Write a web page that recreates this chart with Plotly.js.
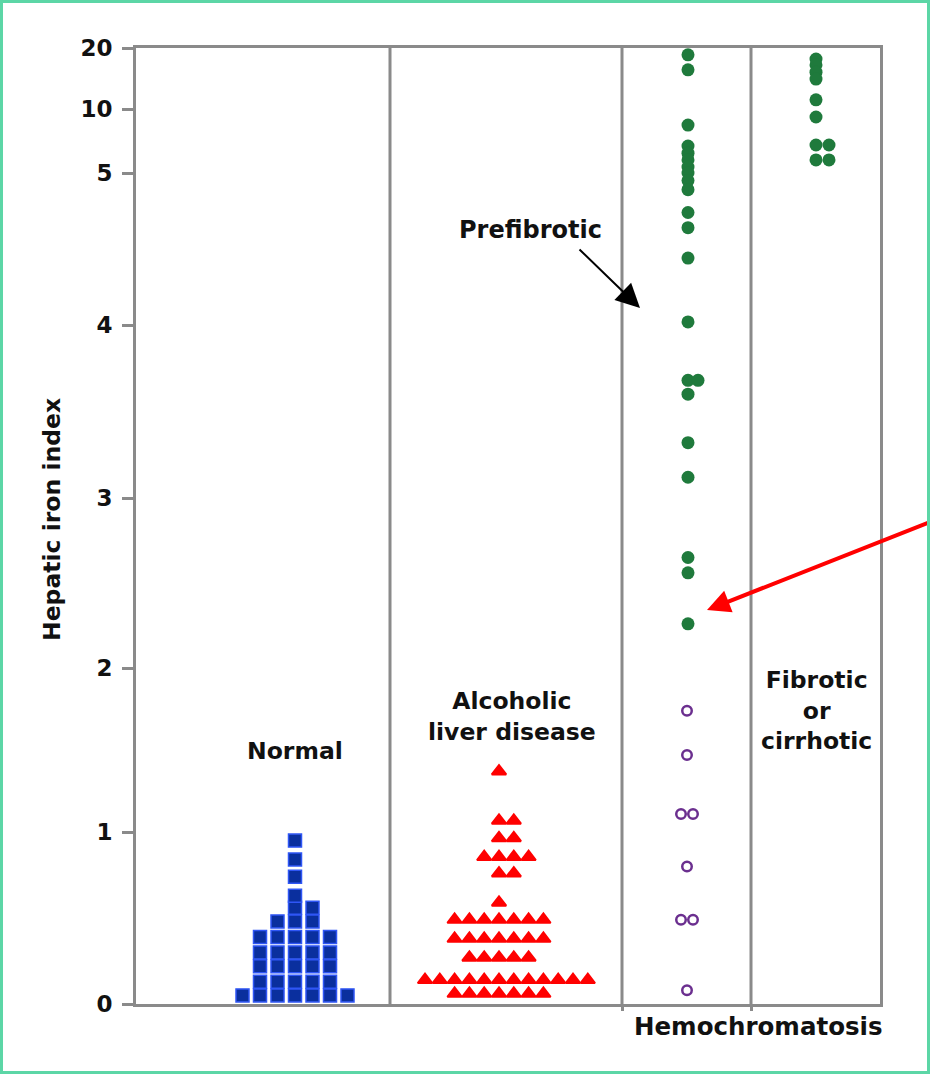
<!DOCTYPE html>
<html><head><meta charset="utf-8">
<script src="https://cdn.plot.ly/plotly-3.0.1.min.js"></script>
<style>
html,body{margin:0;padding:0;background:#fff;}
#chart{width:930px;height:1074px;}
#frame{position:fixed;left:0;top:0;width:930px;height:1074px;box-sizing:border-box;border:3px solid #5cd6a6;pointer-events:none;}
</style></head><body>
<div id="chart"></div><div id="frame"></div>
<script>
// ---- data (hepatic iron index values) ----
const categories = ['Normal', 'Alcoholic liver disease', 'Hemochromatosis (open)', 'Hemochromatosis prefibrotic', 'Hemochromatosis fibrotic or cirrhotic'];
const normalValues = [0.05,0.05,0.05,0.05,0.05,0.05,0.05,
  0.13,0.13,0.13,0.13,0.13, 0.22,0.22,0.22,0.22,0.22, 0.30,0.30,0.30,0.30,0.30,
  0.39,0.39,0.39,0.39,0.39, 0.48,0.48,0.48, 0.56,0.56, 0.63, 0.74, 0.84, 0.95];
const alcoholicValues = [0.06,0.06,0.06,0.06,0.06,0.06,0.06,
  0.14,0.14,0.14,0.14,0.14,0.14,0.14,0.14,0.14,0.14,0.14,0.14,
  0.27,0.27,0.27,0.27,0.27, 0.38,0.38,0.38,0.38,0.38,0.38,0.38,
  0.49,0.49,0.49,0.49,0.49,0.49,0.49, 0.59, 0.76,0.76, 0.855,0.855,0.855,0.855,
  0.965,0.965, 1.07,1.07, 1.37];
const hemoOpenValues = [1.74, 1.47, 1.11, 1.11, 0.80, 0.49, 0.49, 0.08];
const hemoPrefibroticValues = [18.5, 15.6, 8.4, 6.69, 6.2, 5.76, 5.33, 5.0, 4.95, 4.89, 4.74, 4.64, 4.44,
  4.02, 3.68, 3.68, 3.60, 3.32, 3.12, 2.65, 2.56, 2.26];
const hemoFibroticValues = [17.65, 16.5, 15.2, 14.05, 11.1, 9.17, 6.77, 6.77, 5.76, 5.76];
const tickLabels = ['0','1','2','3','4','5','10','20'];
const tickValues = [0,1,2,3,4,5,10,20];

// ---- broken axis layout: where each tick sits on the drawn axis (px from bottom) ----
const tickPos = [0,172,336,506,679,831,895,956];
function toAxis(v){
  for (let i=0;i<tickValues.length-1;i++){
    const a=tickValues[i], b=tickValues[i+1];
    if (v<=b || i===tickValues.length-2){
      let f;
      if (a>=5) f=Math.log(v/a)/Math.log(b/a); else f=(v-a)/(b-a);
      return tickPos[i]+f*(tickPos[i+1]-tickPos[i]);
    }
  }
}
// dot-plot spreading of tied values
function spread(values, center, step, align){
  const counts={}, seen={};
  values.forEach(v=>counts[v]=(counts[v]||0)+1);
  return values.map(v=>{
    const n=counts[v]; seen[v]=(seen[v]===undefined)?0:seen[v]+1;
    const k=seen[v];
    return center+(k-(n-1)/2+(n%2===0?align:0))*step;
  });
}
function trace(vals, center, step, align, marker, name){
  return {type:'scatter', mode:'markers', name:name, x:spread(vals,center,step,align),
    y:vals.map(toAxis), marker:marker, cliponaxis:false, hoverinfo:'skip'};
}
const data = [
  trace(normalValues,159,17.5,0.5,{symbol:'square',size:13,color:'#0a2f9e',line:{color:'#2f56f5',width:1.5}},categories[0]),
  trace(alcoholicValues,363,14.8,0.5,{symbol:'triangle-up',size:12.5,color:'#ff0000',line:{color:'#ff0000',width:2}},categories[1]),
  trace(hemoOpenValues,551,12,0,{symbol:'circle-open',size:9.5,color:'#6b2f8f',line:{color:'#6b2f8f',width:2.5}},categories[2]),
  trace(hemoPrefibroticValues,552,10,0.5,{symbol:'circle',size:13,color:'#1f7a3c'},categories[3]),
  trace(hemoFibroticValues,680,13,0.5,{symbol:'circle',size:13,color:'#1f7a3c'},categories[4])
];
const F='DejaVu Sans';
const W=744, H=956;
function px(x){return (x-136)/W;} function py(y){return (1004-y)/H;}
function label(text,x,y,size){return {text:text,xref:'paper',yref:'paper',x:px(x),y:py(y),showarrow:false,
  font:{family:F,size:size||23.5,color:'#111',weight:'bold'},xanchor:'center',yanchor:'middle',align:'center'};}
const gray='#8a8a8a';
const layout = {
  width:930, height:1074, margin:{l:136,r:50,t:48,b:70}, showlegend:false,
  paper_bgcolor:'#fff', plot_bgcolor:'#fff',
  xaxis:{range:[0,W], showgrid:false, zeroline:false, showline:true, mirror:true, linecolor:gray, linewidth:3,
    tickmode:'array', tickvals:[486,615], ticks:'outside', ticklen:4, tickwidth:3, tickcolor:gray, showticklabels:false, fixedrange:true},
  yaxis:{range:[0,H], showgrid:false, zeroline:false, showline:true, mirror:true, linecolor:gray, linewidth:3,
    tickmode:'array', tickvals:tickPos, ticktext:tickLabels, ticks:'outside', ticklen:11, tickwidth:3, tickcolor:gray,
    ticklabelstandoff:5, tickfont:{family:F,size:23,color:'#111',weight:'bold'}, fixedrange:true},
  // separator positions 390, 622, 751 px -> 254, 486, 615 on the x axis
  shapes:[254,486,615].map(x=>({type:'line',xref:'x',yref:'paper',x0:x,x1:x,y0:0,y1:1,line:{color:gray,width:3}})),
  annotations:[
    label('Normal',295,751),
    label('Alcoholic<br>liver disease',512,716),
    label('Fibrotic<br>or<br>cirrhotic',816,710),
    label('Prefibrotic',530,230,24),
    label('Hemochromatosis',758,1026,24.5),
    {text:'Hepatic iron index',xref:'paper',yref:'paper',x:px(52),y:py(520),showarrow:false,textangle:-90,
      font:{family:F,size:23.5,color:'#111',weight:'bold'},xanchor:'center',yanchor:'middle'},
    {text:'',xref:'paper',yref:'paper',x:px(640),y:py(308),showarrow:true,ax:-62,ay:-60,axref:'pixel',ayref:'pixel',
      arrowhead:2,arrowsize:2.4,arrowwidth:2,arrowcolor:'#000',standoff:0},
    {text:'',xref:'paper',yref:'paper',x:px(707),y:py(610),showarrow:true,ax:226,ay:-88,axref:'pixel',ayref:'pixel',
      arrowhead:2,arrowsize:1.15,arrowwidth:4,arrowcolor:'#ff0000',standoff:0}
  ]
};
Plotly.newPlot('chart', data, layout, {staticPlot:true, displayModeBar:false});
</script>
</body></html>
